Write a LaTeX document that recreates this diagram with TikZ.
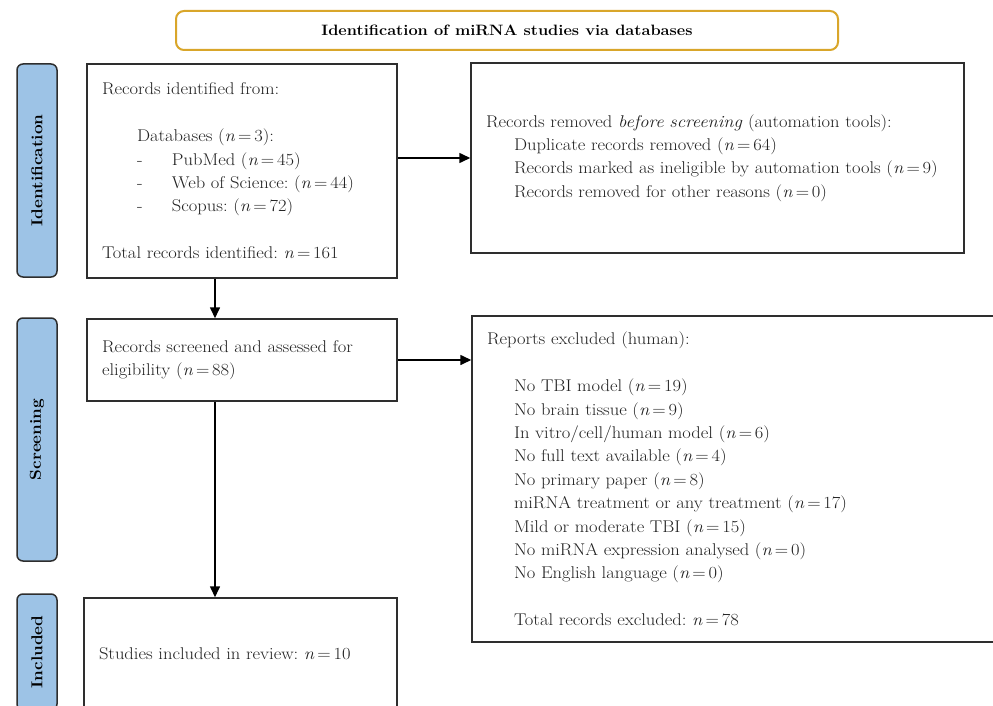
\documentclass[tikz,border=0pt]{standalone}
\usepackage{fontspec}
\setmainfont{Latin Modern Roman}[FakeStretch=1.09]
\usetikzlibrary{arrows.meta}
\definecolor{gold}{HTML}{D9A62A}
\definecolor{lblue}{HTML}{9DC3E6}
\definecolor{edgec}{HTML}{2E2E2E}
\definecolor{txtc}{HTML}{222222}
\newcommand{\nn}[1]{(\textit{n}\,=\,#1)}
\frenchspacing
\begin{document}
\begin{tikzpicture}[x=1pt,y=-1pt,
  box/.style={draw=edgec,line width=1.5pt,fill=white,align=left,inner xsep=15pt,inner ysep=0pt,
    text=txtc,font=\fontsize{17}{23.4}\selectfont},
  sidelbl/.style={draw=edgec,line width=1.5pt,fill=lblue,rounded corners=6pt,rotate=90,
    minimum height=40pt,inner sep=0pt,font=\fontsize{15.8}{16}\selectfont\bfseries},
  titlebox/.style={draw=gold,line width=2pt,rounded corners=8pt,minimum width=662pt,minimum height=39pt,
    font=\fontsize{15}{16}\selectfont\bfseries},
  arr/.style={draw=black,line width=1.6pt,-{Triangle[length=11pt,width=10pt]}}]
\useasboundingbox (0,0) rectangle (993,706);
\clip (0,0) rectangle (993,706);
\fill[white] (0,0) rectangle (993,706);

\node[titlebox] (title) at (507,30.5) {Identification of miRNA studies via databases};

\node[sidelbl,minimum width=213pt] (lid) at (37,170.5) {Identification};
\node[sidelbl,minimum width=243pt] (lsc) at (37,439.5) {Screening};
\node[sidelbl,minimum width=116pt] (lin) at (37,652) {Included};

\node[box,text width=280pt,minimum height=214pt] (b1) at (242,171) {%
Records identified from:\\[23.4pt]
\hspace*{35pt}Databases \nn{3}:\\
\hspace*{35pt}\makebox[35pt][l]{-}PubMed \nn{45}\\
\hspace*{35pt}\makebox[35pt][l]{-}Web of Science: \nn{44}\\
\hspace*{35pt}\makebox[35pt][l]{-}Scopus: \nn{72}\\[23.4pt]
Total records identified: \textit{n}\,=\,161};

\node[box,text width=463pt,minimum height=190pt] (b2) at (717.5,158) {%
Records removed \textit{before screening} (automation tools):\\
\hspace*{28pt}Duplicate records removed \nn{64}\\
\hspace*{28pt}Records marked as ineligible by automation tools \nn{9}\\
\hspace*{28pt}Records removed for other reasons \nn{0}};

\node[box,text width=280pt,minimum height=82pt] (b3) at (242,360) {%
Records screened and assessed for\\
eligibility \nn{88}};

\node[box,text width=498pt,minimum height=326pt] (b4) at (736,479) {%
Reports excluded (human):\\[23.4pt]
\hspace*{27pt}No TBI model \nn{19}\\
\hspace*{27pt}No brain tissue \nn{9}\\
\hspace*{27pt}In vitro/cell/human model \nn{6}\\
\hspace*{27pt}No full text available \nn{4}\\
\hspace*{27pt}No primary paper \nn{8}\\
\hspace*{27pt}miRNA treatment or any treatment \nn{17}\\
\hspace*{27pt}Mild or moderate TBI \nn{15}\\
\hspace*{27pt}No miRNA expression analysed \nn{0}\\
\hspace*{27pt}No English language \nn{0}\\[23.4pt]
\hspace*{27pt}Total records excluded: \textit{n}\,=\,78};

\node[box,text width=283pt,minimum height=112pt] (b5) at (240.5,654) {%
Studies included in review: \textit{n}\,=\,10};

\coordinate (vx) at (215,0);
\draw[arr] (b1.east |- b2.west) -- (b2.west);
\draw[arr] (b3.east) -- (b3.east -| b4.west);
\draw[arr] (b1.south -| vx) -- (b3.north -| vx);
\draw[arr] (b3.south -| vx) -- (b5.north -| vx);
\end{tikzpicture}
\end{document}
